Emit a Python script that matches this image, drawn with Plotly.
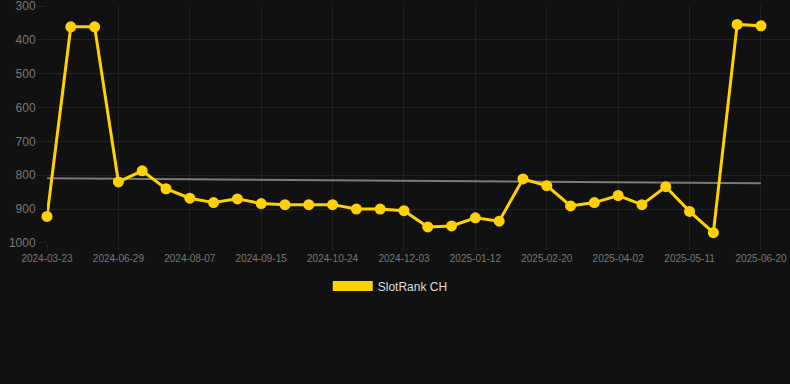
import numpy as np
import plotly.graph_objects as go

dates = [
    "2024-03-23", "2024-05-01", "2024-06-01", "2024-06-29", "2024-07-12", "2024-07-25",
    "2024-08-07", "2024-08-20", "2024-09-02", "2024-09-15", "2024-09-28", "2024-10-11",
    "2024-10-24", "2024-11-06", "2024-11-19", "2024-12-03", "2024-12-16", "2024-12-29",
    "2025-01-12", "2025-01-25", "2025-02-07", "2025-02-20", "2025-03-05", "2025-03-18",
    "2025-04-02", "2025-04-15", "2025-04-28", "2025-05-11", "2025-05-24", "2025-06-06",
    "2025-06-20",
]
ranks = [
    922, 361, 361, 820, 787, 840, 868, 881, 870, 884, 887, 887, 887, 900, 900, 905,
    953, 950, 926, 936, 811, 831, 891, 881, 860, 887, 834, 907, 970, 354, 358,
]
tick_labels = dates[::3]
y_ticks = [300, 400, 500, 600, 700, 800, 900, 1000]
series_name = "SlotRank CH"

idx = np.arange(len(ranks))
slope, intercept = np.polyfit(idx, ranks, 1)
trend = slope * idx + intercept

GOLD = "#FFD100"
GRID = "#212121"
FONT = "Liberation Sans, Arial, sans-serif"

fig = go.Figure()
fig.add_trace(go.Scatter(
    x=dates, y=trend, mode="lines",
    line=dict(color="#7a7a7a", width=2),
    showlegend=False, hoverinfo="skip",
))
fig.add_trace(go.Scatter(
    x=dates, y=ranks, mode="lines+markers",
    line=dict(color=GOLD, width=3),
    marker=dict(color=GOLD, size=11),
    cliponaxis=False,
    showlegend=False, name=series_name,
))
# legend entry
fig.add_trace(go.Scatter(
    x=[None], y=[None], mode="lines",
    line=dict(color=GOLD, width=13),
    name=series_name, showlegend=True,
))

fig.update_layout(
    width=790, height=384,
    margin=dict(l=47, r=0, t=6, b=141, autoexpand=False),
    paper_bgcolor="#111111", plot_bgcolor="#111111",
    font=dict(family=FONT, color="#dddddd"),
    legend=dict(
        orientation="h", x=0.462, xanchor="center",
        y=-0.12, yanchor="top",
        font=dict(size=12, color="#dddddd", family=FONT),
        itemwidth=40, bgcolor="rgba(0,0,0,0)",
    ),
    xaxis=dict(
        type="category",
        categoryorder="array", categoryarray=dates,
        range=[0, len(dates) - 1 + 1.22],
        tickvals=tick_labels, ticktext=tick_labels,
        tickangle=0, automargin=False,
        showgrid=True, gridcolor=GRID, gridwidth=1,
        zeroline=False, showline=False,
        ticks="outside", ticklen=6, tickcolor=GRID,
        tickfont=dict(size=10, color="#777777", family=FONT),
    ),
    yaxis=dict(
        range=[1000.5, 299.5],
        tickvals=y_ticks, automargin=False,
        ticklabeloverflow="allow",
        showgrid=True, gridcolor=GRID, gridwidth=1,
        zeroline=False, showline=False,
        ticks="outside", ticklen=8, tickcolor=GRID,
        tickfont=dict(size=12, color="#777777", family=FONT),
    ),
)

fig.write_html(
    "out.html",
    config={"displayModeBar": False},
    post_script="document.body.style.margin='0';document.body.style.background='#111111';",
)
